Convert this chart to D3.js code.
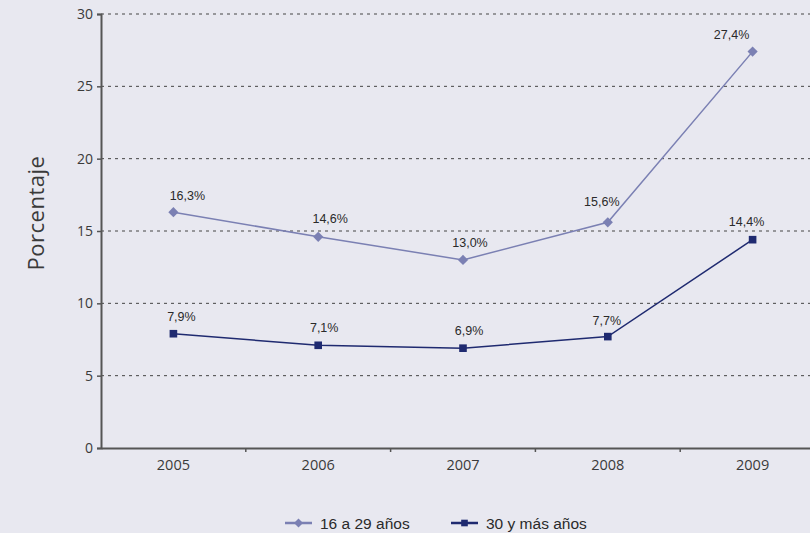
<!DOCTYPE html>
<html>
<head>
<meta charset="utf-8">
<script src="https://cdn.jsdelivr.net/npm/d3@7"></script>
<style>
  html, body { margin: 0; padding: 0; background: #e8e8f0; }
  svg { display: block; }
</style>
</head>
<body>
<svg id="chart" width="810" height="533"></svg>
<script>
// Categories, series and tick labels
const years = ["2005", "2006", "2007", "2008", "2009"];
const jovenes = [16.3, 14.6, 13.0, 15.6, 27.4];    // 16 a 29 años
const mayores = [7.9, 7.1, 6.9, 7.7, 14.4];        // 30 y más años
const seriesNames = ["16 a 29 años", "30 y más años"];
const yTicks = [0, 5, 10, 15, 20, 25, 30];
const yTitle = "Porcentaje";

// Hand-placed nudges for the value labels (pixels, dx / dy from the marker)
const labelNudgeJ = [[14, -12], [12, -14], [7, -13], [-6, -16], [-21, -13]];
const labelNudgeM = [[8, -13], [6, -13], [6, -13], [-1, -12], [-6, -14]];

const colJ = "#7b80b3";
const colM = "#1f2a70";
const axisCol = "#555555";
const textCol = "#3a3a3a";

const svg = d3.select("#chart");
const W = 810, H = 533;
svg.append("rect").attr("width", W).attr("height", H).attr("fill", "#e8e8f0");

const x0 = 101, x1 = 825, yTop = 14, yBot = 448;

const x = d3.scaleBand().domain(years).range([x0, x1]);
const y = d3.scaleLinear().domain([0, 30]).range([yBot, yTop]);

// Dotted grid lines
svg.append("g").selectAll("line")
  .data(yTicks.filter(d => d > 0))
  .join("line")
  .attr("x1", x0).attr("x2", W)
  .attr("y1", d => y(d)).attr("y2", d => y(d))
  .attr("stroke", "#444").attr("stroke-width", 1)
  .attr("stroke-dasharray", "3,4");

// Y axis
const yAxis = svg.append("g")
  .attr("transform", `translate(${x0},0)`)
  .call(d3.axisLeft(y).tickValues(yTicks).tickSize(4).tickPadding(4));
yAxis.select(".domain").attr("stroke", axisCol).attr("stroke-width", 2);
yAxis.selectAll(".tick line").attr("stroke", axisCol).attr("stroke-width", 1.5);
yAxis.selectAll(".tick text")
  .attr("fill", textCol)
  .style("font-family", "'Open Sans', sans-serif")
  .style("font-size", "14px");

// X axis with ticks at band edges
const xAxis = svg.append("g")
  .attr("transform", `translate(0,${yBot})`)
  .call(d3.axisBottom(x).tickSize(0).tickPadding(12));
xAxis.select(".domain").attr("stroke", axisCol).attr("stroke-width", 2);
xAxis.selectAll(".tick text")
  .attr("fill", textCol)
  .style("font-family", "'Open Sans', sans-serif")
  .style("font-size", "14.5px");
svg.append("g").selectAll("line")
  .data(years.slice(1))
  .join("line")
  .attr("x1", d => x(d)).attr("x2", d => x(d))
  .attr("y1", yBot).attr("y2", yBot + 4)
  .attr("stroke", axisCol).attr("stroke-width", 1.5);

// Y title
svg.append("text")
  .attr("transform", `translate(44,213) rotate(-90)`)
  .attr("text-anchor", "middle")
  .attr("fill", textCol)
  .style("font-family", "'Open Sans', sans-serif")
  .style("font-size", "22px")
  .style("letter-spacing", "0.5px")
  .text(yTitle);

const cx = d => x(d) + x.bandwidth() / 2;
const line = d3.line().x(d => cx(d.year)).y(d => y(d.v));

function drawSeries(vals, nudges, color, shape) {
  const data = years.map((yr, i) => ({ year: yr, v: vals[i], n: nudges[i] }));
  svg.append("path").datum(data)
    .attr("d", line).attr("fill", "none")
    .attr("stroke", color).attr("stroke-width", 1.5);
  const sym = d3.symbol().type(d3.symbolSquare).size(shape === "diamond" ? 52 : 58);
  svg.append("g").selectAll("path")
    .data(data).join("path")
    .attr("d", sym)
    .attr("transform", d => `translate(${cx(d.year)},${y(d.v)})` + (shape === "diamond" ? " rotate(45)" : ""))
    .attr("fill", color);
  svg.append("g").selectAll("text")
    .data(data).join("text")
    .attr("x", d => cx(d.year) + d.n[0]).attr("y", d => y(d.v) + d.n[1])
    .attr("text-anchor", "middle")
    .attr("fill", "#2a2a2a")
    .style("font-family", "'Liberation Sans', Arial, sans-serif")
    .style("font-size", "12.5px")
    .text(d => d3.format(".1f")(d.v).replace(".", ",") + "%");
}

drawSeries(jovenes, labelNudgeJ, colJ, "diamond");
drawSeries(mayores, labelNudgeM, colM, "square");

// Legend
const legend = [
  { name: seriesNames[0], color: colJ, shape: "diamond", x: 285 },
  { name: seriesNames[1], color: colM, shape: "square", x: 451 }
];
const ly = 523;
legend.forEach(l => {
  const g = svg.append("g");
  g.append("line").attr("x1", l.x).attr("x2", l.x + 27).attr("y1", ly).attr("y2", ly)
    .attr("stroke", l.color).attr("stroke-width", 2.5);
  g.append("path")
    .attr("d", d3.symbol().type(d3.symbolSquare).size(l.shape === "diamond" ? 40 : 44))
    .attr("transform", `translate(${l.x + 13.5},${ly})` + (l.shape === "diamond" ? " rotate(45)" : ""))
    .attr("fill", l.color);
  g.append("text").attr("x", l.x + 35).attr("y", ly + 5.5)
    .attr("fill", "#2a2a2a")
    .style("font-family", "'Liberation Sans', Arial, sans-serif")
    .style("font-size", "15.5px")
    .text(l.name);
});
</script>
</body>
</html>
